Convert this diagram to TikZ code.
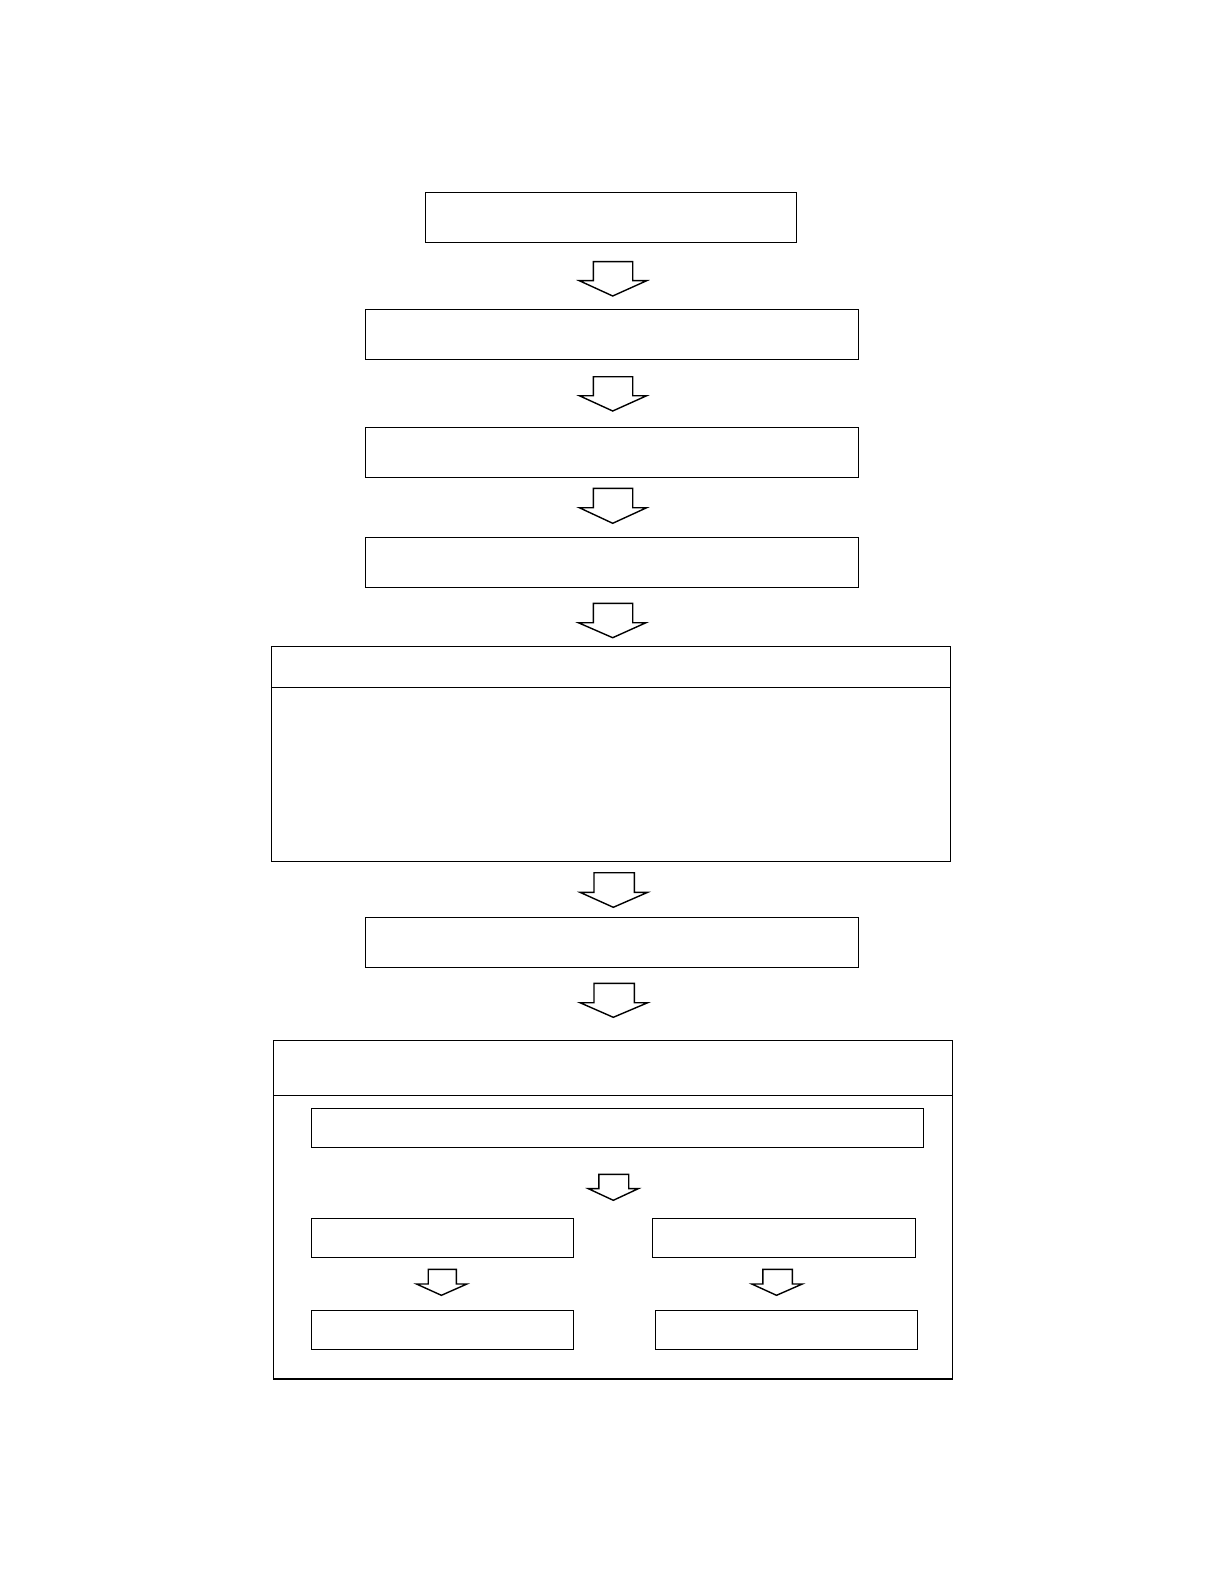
\documentclass[tikz,border=0pt]{standalone}
\usepackage{tikz}
\tikzset{
  box/.style={draw=black, line width=1.1pt, rectangle, inner sep=0pt, fill=white},
  arr/.style={draw=black, line width=1.4pt, line join=miter, fill=white},
  sep/.style={draw=black, line width=1.1pt}
}
% sl, sr, hl, hr, tipx, top, base, tipy
\newcommand{\blockarr}[8]{\draw[arr] (#1,#6) -- (#2,#6) -- (#2,#7) -- (#4,#7) -- (#5,#8) -- (#3,#7) -- (#1,#7) -- cycle;}
\begin{document}
\begin{tikzpicture}[x=1pt,y=-1pt]
\useasboundingbox[fill=white] (0,0) rectangle (1218,1586);

\node[box, minimum width=371pt, minimum height=50pt] (b1) at (610.8,217.3) {};
\node[box, minimum width=493.4pt, minimum height=50pt] (b2) at (612,334.3) {};
\node[box, minimum width=493.4pt, minimum height=50pt] (b3) at (612,452.3) {};
\node[box, minimum width=493.4pt, minimum height=50pt] (b4) at (612,562.3) {};
\node[box, minimum width=679.2pt, minimum height=214.8pt] (b5) at (610.9,753.9) {};
\draw[sep] (b5.west |- 0,687.5) -- (b5.east |- 0,687.5);
\node[box, minimum width=493.4pt, minimum height=50pt] (b6) at (612,942.3) {};
\node[box, minimum width=678.6pt, minimum height=338.3pt] (b7) at (613,1209.85) {};
\draw[sep] (b7.west |- 0,1095.3) -- (b7.east |- 0,1095.3);
\node[box, minimum width=611.6pt, minimum height=38.8pt] (c1) at (617.5,1127.9) {};
\node[box, minimum width=262.1pt, minimum height=39pt] (c2) at (442.75,1237.8) {};
\node[box, minimum width=262.4pt, minimum height=39pt] (c3) at (784.1,1237.8) {};
\node[box, minimum width=262.1pt, minimum height=39pt] (c4) at (442.75,1329.8) {};
\node[box, minimum width=261.4pt, minimum height=39pt] (c5) at (786.6,1329.8) {};

\blockarr{593.3}{632.7}{579.3}{646.7}{612.7}{261.7}{280.7}{296}
\blockarr{593.3}{632.7}{579.3}{646.7}{612.7}{376.7}{395.7}{411}
\blockarr{593.3}{632.7}{579.3}{646.7}{612.7}{488.3}{507.7}{523.3}
\blockarr{593.3}{632.7}{578.3}{646}{612.7}{603.3}{622.7}{637.7}
\blockarr{594}{634.3}{580}{647.7}{613.3}{872.7}{892.3}{907.3}
\blockarr{594}{634.3}{580}{647.7}{613.3}{983.3}{1002.7}{1017.3}
\blockarr{598.8}{628.7}{588.2}{638.4}{613.3}{1174.3}{1188.6}{1200.3}
\blockarr{428.2}{456.4}{416.5}{466.9}{441.4}{1269.4}{1284}{1295.3}
\blockarr{762.8}{792.3}{751.8}{802.3}{776.5}{1269.4}{1284}{1295.3}
\end{tikzpicture}
\end{document}
